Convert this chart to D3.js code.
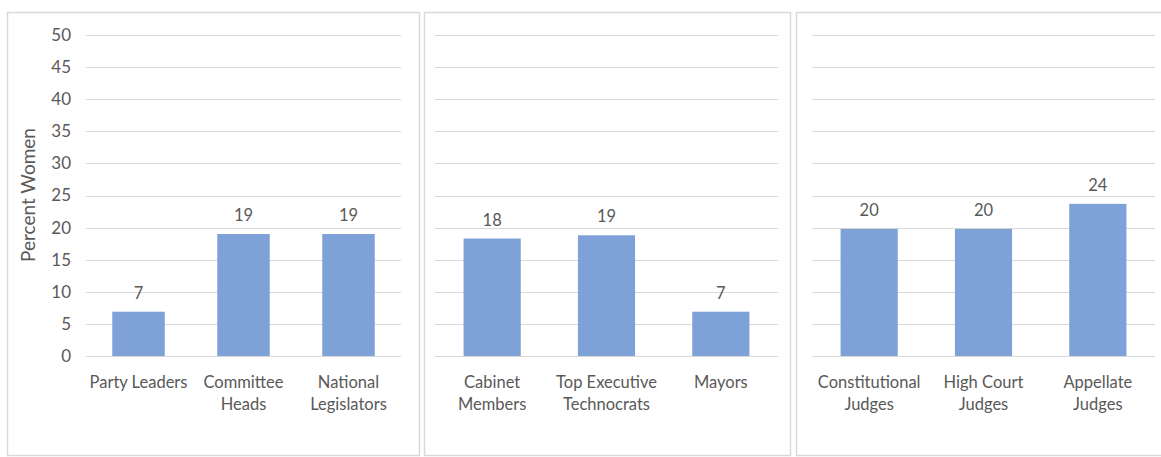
<!DOCTYPE html>
<html>
<head>
<meta charset="utf-8">
<script src="https://cdn.jsdelivr.net/npm/d3@7"></script>
<style>
  body { margin: 0; background: #fff; }
  text { font-family: Lato, "Open Sans", sans-serif; fill: #595959; }
</style>
</head>
<body>
<div class="barchart"></div>
<script>
// values
const legCategories = [["Party Leaders"], ["Committee", "Heads"], ["National", "Legislators"]];
const legValues = [6.9, 19, 19];
const exeCategories = [["Cabinet", "Members"], ["Top Executive", "Technocrats"], ["Mayors"]];
const exeValues = [18.3, 18.8, 6.9];
const judCategories = [["Constitutional", "Judges"], ["High Court", "Judges"], ["Appellate", "Judges"]];
const judValues = [19.8, 19.8, 23.7];
const yTicks = [0, 5, 10, 15, 20, 25, 30, 35, 40, 45, 50];

const width = 1161, height = 457;

const svg = d3.select(".barchart")
  .append("svg")
    .attr("width", width)
    .attr("height", height);

const y = d3.scaleLinear()
  .domain([0, 50])
  .range([356, 35]);

// panel frame, plot x range, whether it carries the y axis
const panels = [
  {box: [7, 12, 412, 443], plot: [86, 401], cats: legCategories, vals: legValues, axis: true},
  {box: [424, 12, 366, 443], plot: [435, 778], cats: exeCategories, vals: exeValues, axis: false},
  {box: [796, 12, 375, 443], plot: [812, 1155], cats: judCategories, vals: judValues, axis: false}
];

panels.forEach(p => {
  const g = svg.append("g");

  g.append("rect")
    .attr("x", p.box[0] + 0.5)
    .attr("y", p.box[1] + 0.5)
    .attr("width", p.box[2])
    .attr("height", p.box[3])
    .attr("fill", "#fff")
    .attr("stroke", "#d9d9d9")
    .attr("stroke-width", 1.5);

  const x = d3.scaleBand()
    .domain(p.cats.map((c, i) => i))
    .range(p.plot)
    .paddingInner(0.5)
    .paddingOuter(0.25);

  // gridlines
  g.append("g")
    .selectAll("line")
    .data(yTicks)
    .enter()
    .append("line")
      .attr("x1", p.plot[0])
      .attr("x2", p.plot[1])
      .attr("y1", d => Math.round(y(d)) + 0.5)
      .attr("y2", d => Math.round(y(d)) + 0.5)
      .attr("stroke", "#d9d9d9")
      .attr("stroke-width", 1);

  if (p.axis) {
    const ax = g.append("g")
      .attr("transform", "translate(" + p.plot[0] + ",0)")
      .call(d3.axisLeft(y).tickValues(yTicks).tickSize(0).tickPadding(15));
    ax.select(".domain").remove();
    ax.selectAll("text")
      .style("font-size", "17px")
      .attr("fill", "#595959");

    g.append("text")
      .attr("text-anchor", "middle")
      .attr("transform", "translate(35,195) rotate(-90)")
      .style("font-size", "19px")
      .text("Percent Women");
  }

  // bars
  g.append("g")
    .selectAll("rect")
    .data(p.vals)
    .enter()
    .append("rect")
      .attr("x", (d, i) => x(i))
      .attr("y", d => y(d))
      .attr("width", x.bandwidth())
      .attr("height", d => y(0) - y(d))
      .attr("fill", "#7ea1d7");

  // value labels
  g.append("g")
    .selectAll("text")
    .data(p.vals)
    .enter()
    .append("text")
      .attr("x", (d, i) => x(i) + x.bandwidth() / 2)
      .attr("y", d => y(d) - 13)
      .attr("text-anchor", "middle")
      .style("font-size", "16.5px")
      .text(d => Math.round(d));

  // category labels
  const cl = g.append("g")
    .selectAll("text")
    .data(p.cats)
    .enter()
    .append("text")
      .attr("x", (d, i) => x(i) + x.bandwidth() / 2)
      .attr("y", 388)
      .attr("text-anchor", "middle")
      .style("font-size", "16.5px");
  cl.selectAll("tspan")
    .data(d => d)
    .enter()
    .append("tspan")
      .attr("x", function() { return d3.select(this.parentNode).attr("x"); })
      .attr("dy", (d, i) => i === 0 ? 0 : 22)
      .text(d => d);
});
</script>
</body>
</html>
